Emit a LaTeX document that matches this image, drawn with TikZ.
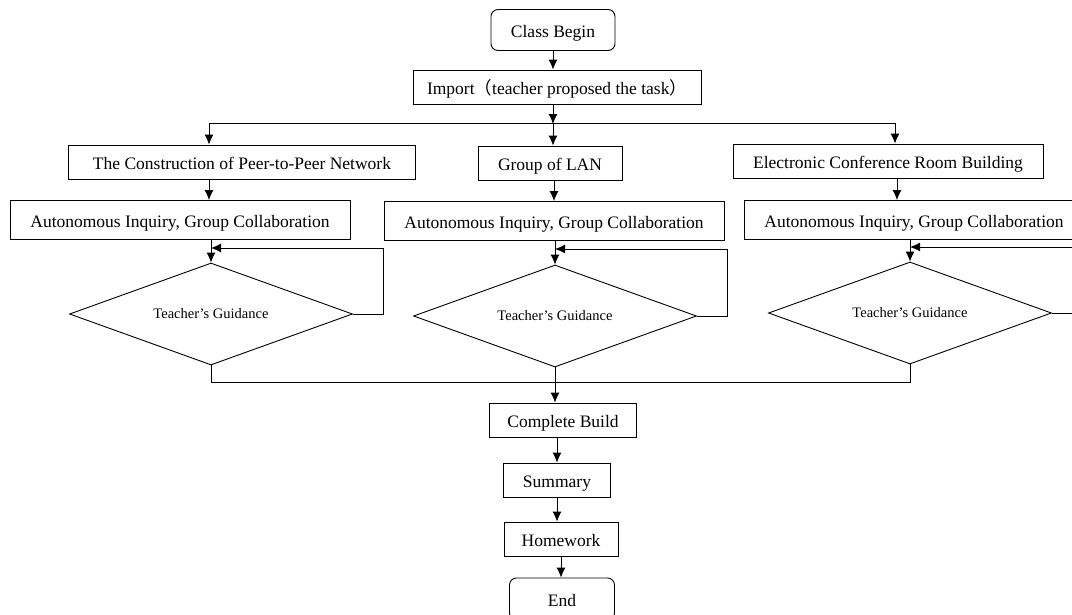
\documentclass[tikz,border=0pt]{standalone}
\usepackage{fontspec}
\setmainfont{Liberation Serif}
\newfontfamily\cjk{Noto Sans CJK SC}
\usetikzlibrary{arrows.meta,shapes.geometric}

\begin{document}
\begin{tikzpicture}[x=1pt,y=-1pt,line width=0.9pt,
    box/.style = {rectangle,draw,minimum height=34pt,inner sep=2pt,text height=16pt,text depth=0.5pt,font=\fontsize{17.5}{19}\selectfont},
    rbox/.style = {box,rounded corners=7pt},
    dia/.style = {diamond,draw,aspect=2.77,inner sep=0pt,font=\fontsize{14.5}{16}\selectfont},
    arr/.style = {-{Latex[length=10pt,width=9pt]}}]
\useasboundingbox (0,0) rectangle (1072,614);
\node[rbox,minimum width=124pt,minimum height=41pt] (begin) at (553,30) {Class Begin};
\node[box,minimum width=288pt] (imp) at (557,87) {Import{\cjk （}teacher proposed the task{\cjk ）}};
% three tasks
\node[box,minimum width=347pt] (t1) at (242,162) {The Construction of Peer-to-Peer Network};
\node[box,minimum width=144pt] (t2) at (550,163) {Group of LAN};
\node[box,minimum width=310pt] (t3) at (888,161) {Electronic Conference Room Building};
\foreach \n/\x/\y in {1/180/220,2/554/221,3/914/220}
    \node[box,minimum width=340pt,minimum height=39pt] (a\n) at (\x,\y) {Autonomous Inquiry, Group Collaboration};
\foreach \n/\x/\y in {1/211/314,2/555/316,3/910/313}
    \node[dia,minimum width=283pt,minimum height=102pt] (d\n) at (\x,\y) {Teacher{\char"27}s Guidance};
\node[box,minimum width=147pt] (cb) at (563,420) {Complete Build};
\node[box,minimum width=107pt] (sum) at (557,480) {Summary};
\node[box,minimum width=114pt] (hw) at (561,539) {Homework};
\node[rbox,minimum width=105pt,minimum height=42pt] (end) at (562,599) {End};
% branch lines
\coordinate (busL) at (209,123);
\coordinate (busR) at (895,123);
\coordinate (bot) at (555,382);
\draw[arr] (begin.south -| imp.north) ++(-4,0) coordinate (b0) -- (b0 |- imp.north);
\draw[arr] (imp.south) ++(-4,0) coordinate (i0) -- ([yshift=-1pt]i0 |- busL);
\draw (busL) -- (busR);
\draw[arr] (busL) -- (busL |- t1.north);
\draw[arr] (i0 |- busL) -- (i0 |- t2.north);
\draw[arr] (busR) -- (busR |- t3.north);
\draw[arr] (t1.south -| busL) -- (a1.north -| busL);
\draw[arr] (t2.south -| a2) -- (a2.north);
\draw[arr] (t3.south -| d3) ++(-13,0) coordinate (t0) -- (t0 |- a3.north);
% guidance loops
\foreach \n/\rx/\ry in {1/383/248,2/727/249,3/1085/247}{
    \draw[arr] (a\n.south -| d\n) -- (d\n.north);
    \coordinate (r\n) at (\rx,\ry);
    \draw[arr] (d\n.east) -| (r\n) -- (r\n -| d\n);
}
% join
\draw (d1.south) -- (d1.south |- bot) -- (d3.south |- bot) -- (d3.south);
\draw[arr] (d2.south) -- (d2.south |- cb.north);
\draw[arr] (sum.north |- cb.south) -- (sum.north);
\draw[arr] (sum.south) -- (sum.south |- hw.north);
\draw[arr] (hw.south) -- (hw.south |- end.north);
\end{tikzpicture}
\end{document}
